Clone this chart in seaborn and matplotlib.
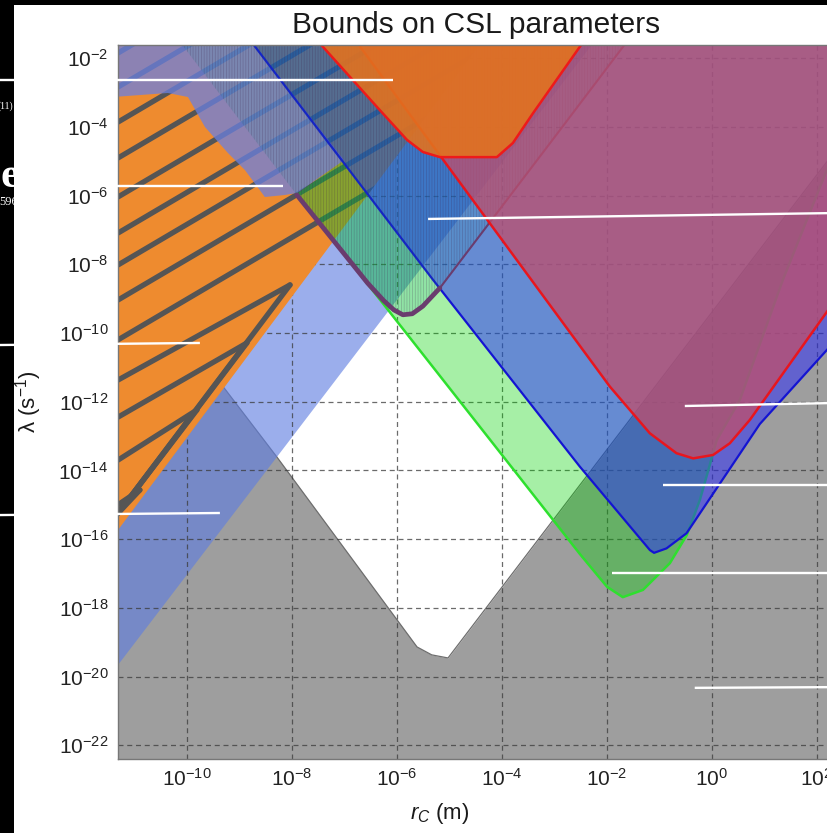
import numpy as np
import matplotlib
matplotlib.use("Agg")
import matplotlib.pyplot as plt
import seaborn as sns
from matplotlib.patches import Rectangle
from matplotlib.ticker import FixedLocator, NullLocator, LogFormatterMathtext

sns.set_style("white")
plt.rcParams["font.family"] = ["Liberation Sans", "DejaVu Sans"]
plt.rcParams["mathtext.fontset"] = "custom"
plt.rcParams["mathtext.rm"] = "Liberation Sans"
plt.rcParams["mathtext.it"] = "Liberation Sans:italic"
plt.rcParams["mathtext.bf"] = "Liberation Sans:bold"
plt.rcParams["hatch.linewidth"] = 0.5

# ---------------- bound curves: log10(r_C / m), log10(lambda / s^-1) ----------------
# theoretical lower bound (excluded below)
theory_logr = [-11.4, -8.28, -5.61, -5.33, -5.02, -3.31, 3.2]
theory_logl = [-7.37, -13.61, -19.14, -19.37, -19.46, -16.03, -3.01]

# periwinkle band (excluded above its lower edge)
band_logr = [-11.4, -1.975]
band_logl = [-19.85, -1.0]

# orange hatched region, right-hand edge
xray_logr = [-11.4, -4.119]
xray_logl = [-15.926, -1.0]

# hatch stripes inside the orange region: start (left edge) and end points
stripe_r0 = [-11.307] * 13
stripe_l0 = [-1.85, -2.84, -3.86, -4.905, -6.04, -7.09, -8.02, -9.04, -10.20,
             -11.37, -12.45, -13.70, -15.0]
stripe_r1 = [-2.0, -2.0, -2.0, -2.0, -2.0, -2.0, -2.0, -2.0, -2.0,
             -8.03, -8.852, -9.804, -10.89]
stripe_l1 = [6.53, 5.54, 4.52, 3.475, 2.34, 1.29, 0.36, -0.66, -1.82,
             -8.60, -10.29, -12.24, -14.57]
fan_r0 = [-11.307] * 4
fan_l0 = [-15.25] * 4
fan_r1 = [-8.03, -8.852, -9.804, -10.89]
fan_l1 = [-8.60, -10.29, -12.24, -14.57]

# upper-left overlay region, lower boundary then back along the top
upper_logr = [-11.4, -10.356, -9.975, -9.651, -9.213, -8.890, -8.509, -8.128,
              -7.899, -7.0, -9.03, -11.4]
upper_logl = [-3.13, -3.013, -3.130, -4.003, -4.760, -5.255, -6.041, -5.983,
              -5.924, -4.97, -1.0, -1.0]

# green bound (excluded between the two arms)
green_logr = [-7.90, -2.51, -1.99, -1.69, -1.307, -0.793, -0.47, -0.222, 0.101,
              0.539, 1.358, 2.196, 3.2]
green_logl = [-5.95, -16.43, -17.39, -17.69, -17.48, -16.70, -15.88, -14.86,
              -13.115, -11.95, -8.457, -5.255, -1.2]
green_cap_logr = [-9.03, -7.0]
green_cap_logl = [-1.0, -4.97]

# blue bound (excluded above)
blue_logr = [-9.03, -8.72, -5.303, -2.509, -1.35, -1.174, -1.095, -0.857,
             -0.476, 0.92, 2.2, 3.2]
blue_logl = [-1.0, -1.616, -8.457, -13.89, -16.0, -16.32, -16.40, -16.27,
             -15.83, -12.65, -10.49, -8.7]

# purple hatched bound (excluded inside the U)
cantilever_logr = [-10.39, -7.90, -6.55, -6.25, -6.05, -5.88, -5.70, -5.50,
                   -5.175, -3.08, -1.355]
cantilever_logl = [-1.0, -5.98, -8.55, -9.05, -9.33, -9.47, -9.44, -9.22,
                   -8.69, -4.48, -1.0]

# magenta bound with red outline (excluded above)
lisa_logr = [-7.015, -3.08, -1.937, -1.175, -0.667, -0.35, 0.03, 0.349, 0.73,
             2.2, 3.2]
lisa_logl = [-1.0, -9.185, -11.56, -12.92, -13.50, -13.65, -13.55, -13.21,
             -12.53, -9.38, -7.24]

# orange bound with red outline at the top (excluded above)
matter_logr = [-7.80, -7.40, -6.32, -5.80, -5.50, -5.175, -4.09, -3.785,
               -3.40, -2.51, -2.20]
matter_logl = [-1.0, -1.674, -3.51, -4.38, -4.73, -4.88, -4.88, -4.47,
               -3.60, -1.67, -1.0]

# leader lines (log r, log lambda)
lead_r0 = [-13.56, -12.28, -5.40, -13.56, -13.56, -0.509, -0.93, -1.90, -0.32]
lead_r1 = [-6.068, -8.166, 2.25, -9.747, -9.366, 2.25, 2.25, 2.25, 2.25]
lead_l0 = [-2.635, -5.72, -6.68, -10.35, -15.30, -12.125, -14.43, -16.99, -20.33]
lead_l1 = [-2.635, -5.72, -6.51, -10.29, -15.24, -12.04, -14.43, -16.99, -20.31]

xtick_exp = [-10, -8, -6, -4, -2, 0, 2]
ytick_exp = [-2, -4, -6, -8, -10, -12, -14, -16, -18, -20, -22]


def p10(a):
    return 10.0 ** np.asarray(a, dtype=float)


W, H = 827, 833
fig = plt.figure(figsize=(W / 100, H / 100), dpi=100, facecolor="black")

# page behind the figure: slide fragments on black, then the white figure card
bg = fig.add_axes([0, 0, 1, 1], zorder=-10)
bg.set_xlim(0, W)
bg.set_ylim(H, 0)
bg.axis("off")
bg.set_facecolor("black")
bg.text(13, 106, "(11)", color="white", fontsize=7, ha="right", va="center",
        family="Liberation Serif", zorder=1)
bg.text(1, 187, "e", color="white", fontsize=31, fontweight="bold", ha="left",
        va="baseline", family="Liberation Serif", zorder=1)
bg.text(-1, 202, "596", color="white", fontsize=9, ha="left", va="center",
        family="Liberation Serif", zorder=1)
bg.add_patch(Rectangle((14, 5), W - 14, H - 5, facecolor="white",
                       edgecolor="none", zorder=2))

ax_l, ax_r, ax_t, ax_b = 118, 869, 45, 758.5
ax = fig.add_axes([ax_l / W, (H - ax_b) / H, (ax_r - ax_l) / W, (ax_b - ax_t) / H])
ax.set_facecolor("white")
ax.set_xscale("log")
ax.set_yscale("log")
ax.set_xlim(p10(-11.307), p10(3.0))
ax.set_ylim(p10(-22.387), p10(-1.616))

top = p10(-1.0)

# theoretical bound
ax.fill_between(p10(theory_logr), p10(theory_logl), p10(-23), color="#9e9e9e",
                linewidth=0, zorder=1)
sns.lineplot(x=p10(theory_logr), y=p10(theory_logl), sort=False, estimator=None,
             color="#6e6e6e", linewidth=0.9, ax=ax, zorder=1.2)

# periwinkle band
ax.fill(np.r_[p10(band_logr), p10(-11.4)], np.r_[p10(band_logl), top],
        color=(94 / 255, 125 / 255, 225 / 255), alpha=0.62, linewidth=0, zorder=2)

# orange hatched region with its stripes
xray = ax.fill(np.r_[p10(xray_logr), p10(-11.4)], np.r_[p10(xray_logl), top],
               color="#ee8b2f", linewidth=0, zorder=4)[0]
for r0, l0, r1, l1 in zip(stripe_r0 + fan_r0, stripe_l0 + fan_l0,
                          stripe_r1 + fan_r1, stripe_l1 + fan_l1):
    ln, = ax.plot(p10([r0, r1]), p10([l0, l1]), color="#555555", linewidth=3.8,
                  solid_capstyle="round", zorder=4.2)
    ln.set_clip_path(xray)

# upper-left overlay
ax.fill(p10(upper_logr), p10(upper_logl), color=(107 / 255, 128 / 255, 225 / 255),
        alpha=0.75, linewidth=0, zorder=5)

# green bound
ax.fill(np.r_[p10(green_cap_logr), p10(green_logr), p10(3.2)],
        np.r_[p10(green_cap_logl), p10(green_logl), top],
        color="#00d200", alpha=0.35, linewidth=0, zorder=6)
sns.lineplot(x=p10(green_logr), y=p10(green_logl), sort=False, estimator=None,
             color="#2ee02e", linewidth=1.8, ax=ax, zorder=6.5)

# blue bound
ax.fill(np.r_[p10(blue_logr), p10(3.2)], np.r_[p10(blue_logl), top],
        color="#2828ff", alpha=0.5, linewidth=0, zorder=7)
sns.lineplot(x=p10(blue_logr[1:]), y=p10(blue_logl[1:]), sort=False, estimator=None,
             color="#1414d2", linewidth=1.6, ax=ax, zorder=7.5)

# purple hatched bound: faint teal tint, fine vertical hatch, outline
ax.fill(p10(cantilever_logr), p10(cantilever_logl), color="#10a0a0", alpha=0.14,
        linewidth=0, zorder=7.8)
ax.fill(p10(cantilever_logr), p10(cantilever_logl), facecolor="none",
        edgecolor="#40204a", hatch="||||||", linewidth=0, alpha=0.28, zorder=8)
sns.lineplot(x=p10(cantilever_logr[1:9]), y=p10(cantilever_logl[1:9]), sort=False,
             estimator=None, color="#6a3c6e", linewidth=3.4, ax=ax, zorder=8.5)
sns.lineplot(x=p10(cantilever_logr[8:]), y=p10(cantilever_logl[8:]), sort=False,
             estimator=None, color="#6a3c6e", linewidth=1.5, ax=ax, zorder=8.5)

# magenta bound
ax.fill(np.r_[p10(lisa_logr), p10(3.2)], np.r_[p10(lisa_logl), top],
        color="#bb5070", alpha=0.78, linewidth=0, zorder=9)
sns.lineplot(x=p10(lisa_logr), y=p10(lisa_logl), sort=False, estimator=None,
             color="#e8161e", linewidth=1.8, ax=ax, zorder=9.5)

# orange bound at the top
ax.fill(p10(matter_logr), p10(matter_logl), color="#e2721f", alpha=0.9,
        linewidth=0, zorder=12)
sns.lineplot(x=p10(matter_logr), y=p10(matter_logl), sort=False, estimator=None,
             color="#ee1a1a", linewidth=1.8, ax=ax, zorder=12.5)

# leader lines
for r0, r1, l0, l1 in zip(lead_r0, lead_r1, lead_l0, lead_l1):
    ax.plot(p10([r0, r1]), p10([l0, l1]), color="white", linewidth=1.7,
            solid_capstyle="butt", clip_on=False, zorder=40)

# grid and ticks
ax.xaxis.set_major_locator(FixedLocator(p10(xtick_exp)))
ax.yaxis.set_major_locator(FixedLocator(p10(ytick_exp)))
ax.xaxis.set_minor_locator(NullLocator())
ax.yaxis.set_minor_locator(NullLocator())
ax.xaxis.set_major_formatter(LogFormatterMathtext())
ax.yaxis.set_major_formatter(LogFormatterMathtext())
ax.set_axisbelow(False)
ax.grid(True, which="major", color="#3a3a3a", linestyle=(0, (4, 3)),
        linewidth=0.9, alpha=0.75)
ax.tick_params(axis="both", length=0, labelsize=15, pad=7, colors="#222222")
for side, sp in ax.spines.items():
    sp.set_color("#777777")
    sp.set_linewidth(1.0)
    sp.set_zorder(30)
ax.spines["right"].set_visible(False)

fig.text(476 / W, 1 - 25 / H, "Bounds on CSL parameters", ha="center",
         va="center", fontsize=21.5, color="#1a1a1a")
fig.text(440 / W, 1 - 813 / H, r"$r_C$ (m)", ha="center", va="center",
         fontsize=16, color="#1a1a1a")
fig.text(29 / W, 1 - 402 / H, r"λ (s$^{-1}$)", ha="center", va="center",
         rotation=90, fontsize=16, color="#1a1a1a")

fig.savefig("out.png", dpi=100, facecolor="black")
